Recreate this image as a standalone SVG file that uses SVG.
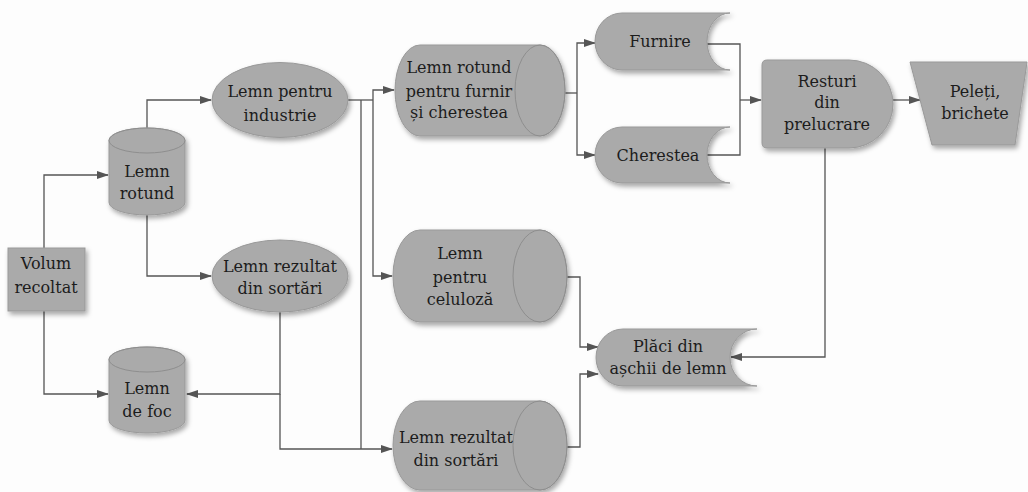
<svg xmlns="http://www.w3.org/2000/svg" width="1028" height="492" viewBox="0 0 1028 492">
<defs>
<filter id="sh" x="-20%" y="-20%" width="150%" height="160%">
<feDropShadow dx="2" dy="3" stdDeviation="2.5" flood-color="#000" flood-opacity="0.35"/>
</filter>
<marker id="ar" markerWidth="12" markerHeight="10" refX="11" refY="4" orient="auto" markerUnits="userSpaceOnUse">
<path d="M0,0 L12,4 L0,8 Z" fill="#555"/>
</marker>
</defs>
<rect width="1028" height="492" fill="#fdfdfd"/>
<g id="connectors" fill="none" stroke="#555" stroke-width="1.3">
<path marker-end="url(#ar)" d="M44,248 L44,175 L108,175"/>
<path marker-end="url(#ar)" d="M44,311 L44,394 L108,394"/>
<path marker-end="url(#ar)" d="M147,128 L147,100 L211,100"/>
<path marker-end="url(#ar)" d="M147,215 L147,276 L211,276"/>
<path d="M348,100 L373,100"/>
<path marker-end="url(#ar)" d="M373,100 L373,90 L394,90"/>
<path marker-end="url(#ar)" d="M373,100 L373,276 L392,276"/>
<path d="M361,100 L361,449"/>
<path marker-end="url(#ar)" d="M280,312 L280,394 L187,394"/>
<path marker-end="url(#ar)" d="M280,394 L280,449 L392,449"/>
<path d="M565,93 L577,93"/>
<path marker-end="url(#ar)" d="M577,93 L577,43 L595,43"/>
<path marker-end="url(#ar)" d="M577,93 L577,155 L595,155"/>
<path d="M707,44 L740,44 L740,155 L707,155"/>
<path marker-end="url(#ar)" d="M740,100 L761,100"/>
<path marker-end="url(#ar)" d="M893,100 L920,100"/>
<path marker-end="url(#ar)" d="M825,148 L825,357 L731,357"/>
<path marker-end="url(#ar)" d="M567,277 L580,277 L580,347 L598,347"/>
<path marker-end="url(#ar)" d="M567,447 L580,447 L580,374 L598,374"/>
</g>
<g id="nodes" font-family="DejaVu Serif, serif" font-size="16" fill="#1c1c1c" text-anchor="middle">
<g id="volum">
<rect fill="#aaa" stroke="#999" filter="url(#sh)" x="8" y="248" width="77" height="63"/>
<text x="46" y="269">Volum</text>
<text x="46" y="293">recoltat</text>
</g>
<g id="lemn-rotund">
<path fill="#aaa" stroke="#999" filter="url(#sh)" d="M109,140.5 A38,12.5 0 0 1 185,140.5 L185,202.5 A38,12.5 0 0 1 109,202.5 Z"/>
<ellipse fill="none" stroke="#8e8e8e" cx="147" cy="140.5" rx="38" ry="12.5"/>
<text x="147" y="177">Lemn</text>
<text x="147" y="199">rotund</text>
</g>
<g id="lemn-de-foc">
<path fill="#aaa" stroke="#999" filter="url(#sh)" d="M109,359.5 A38,12.5 0 0 1 185,359.5 L185,420.5 A38,12.5 0 0 1 109,420.5 Z"/>
<ellipse fill="none" stroke="#8e8e8e" cx="147" cy="359.5" rx="38" ry="12.5"/>
<text x="147" y="394">Lemn</text>
<text x="147" y="417">de foc</text>
</g>
<g id="lemn-industrie">
<ellipse fill="#aaa" stroke="#999" filter="url(#sh)" cx="280" cy="100" rx="68" ry="37.5"/>
<text x="280" y="97">Lemn pentru</text>
<text x="280" y="121">industrie</text>
</g>
<g id="lemn-sortari-1">
<ellipse fill="#aaa" stroke="#999" filter="url(#sh)" cx="280" cy="276" rx="68" ry="36"/>
<text x="280" y="272">Lemn rezultat</text>
<text x="280" y="294">din sortări</text>
</g>
<g id="lemn-furnir">
<path fill="#aaa" stroke="#999" filter="url(#sh)" d="M420,45 L540,45 A25,45.5 0 0 1 540,136 L420,136 A25,45.5 0 0 1 420,45 Z"/>
<ellipse fill="none" stroke="#8e8e8e" cx="540" cy="90.5" rx="25" ry="45.5"/>
<text x="459" y="73">Lemn rotund</text>
<text x="459" y="97">pentru furnir</text>
<text x="459" y="118">și cherestea</text>
</g>
<g id="lemn-celuloza">
<path fill="#aaa" stroke="#999" filter="url(#sh)" d="M420,230 L540,230 A27,46 0 0 1 540,322 L420,322 A27,46 0 0 1 420,230 Z"/>
<ellipse fill="none" stroke="#8e8e8e" cx="540" cy="276" rx="27" ry="46"/>
<text x="460" y="259">Lemn</text>
<text x="460" y="283">pentru</text>
<text x="460" y="305">celuloză</text>
</g>
<g id="lemn-sortari-2">
<path fill="#aaa" stroke="#999" filter="url(#sh)" d="M420,401 L540,401 A27,44.5 0 0 1 540,490 L420,490 A27,44.5 0 0 1 420,401 Z"/>
<ellipse fill="none" stroke="#8e8e8e" cx="540" cy="445.5" rx="27" ry="44.5"/>
<text x="456" y="443">Lemn rezultat</text>
<text x="456" y="466">din sortări</text>
</g>
<g id="furnire">
<path fill="#aaa" stroke="#999" filter="url(#sh)" d="M622,13 L730,13 A23,28.5 0 0 0 730,70 L622,70 A27,28.5 0 0 1 622,13 Z"/>
<text x="660" y="47">Furnire</text>
</g>
<g id="cherestea">
<path fill="#aaa" stroke="#999" filter="url(#sh)" d="M622,127 L730,127 A23,28 0 0 0 730,183 L622,183 A27,28 0 0 1 622,127 Z"/>
<text x="658" y="161">Cherestea</text>
</g>
<g id="resturi">
<path fill="#aaa" stroke="#999" filter="url(#sh)" d="M767,60 L849,60 A44,44 0 0 1 849,148 L767,148 Q762,148 762,143 L762,65 Q762,60 767,60 Z"/>
<text x="827" y="87">Resturi</text>
<text x="827" y="108">din</text>
<text x="827" y="130">prelucrare</text>
</g>
<g id="peleti">
<path fill="#aaa" stroke="#999" filter="url(#sh)" d="M910,62 L1027,62 L1015,145 L932,145 Z"/>
<text x="975" y="97">Peleți,</text>
<text x="975" y="119">brichete</text>
</g>
<g id="placi">
<path fill="#aaa" stroke="#999" filter="url(#sh)" d="M623,329 L757,329 A27,28.5 0 0 0 757,386 L623,386 A27,28.5 0 0 1 623,329 Z"/>
<text x="668" y="352">Plăci din</text>
<text x="668" y="374">așchii de lemn</text>
</g>
</g>
</svg>
